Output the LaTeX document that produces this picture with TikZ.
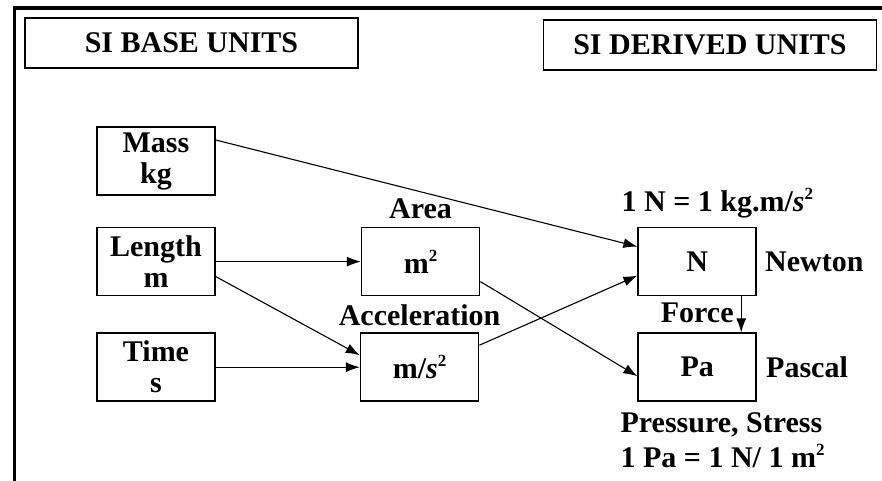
\documentclass[tikz,border=0pt]{standalone}
\usepackage{fontspec}
\setmainfont{Liberation Serif}
\usetikzlibrary{positioning,arrows.meta}
\newcommand{\sqr}{\raisebox{12pt}{\fontsize{17}{17}\selectfont 2}}

\begin{document}
\begin{tikzpicture}[x=1pt,y=-1pt,
		every node/.style={font=\bfseries\fontsize{30}{31}\selectfont,inner sep=0pt},
		header/.style={draw,line width=1.6pt,minimum width=333pt,minimum height=50pt,font=\bfseries\fontsize{30}{34}\selectfont},
		unit/.style={draw,line width=1.6pt,minimum width=118pt,minimum height=68pt,align=center},
		link/.style={-{Latex[length=14pt,width=10pt]},line width=1.1pt}]
	\useasboundingbox (0,0) rectangle (882,481);
	\draw[line width=3.5pt] (14.5,481) -- (14.5,8) -- (882,8);

	\node (BASE)    [header] at (191.5,43)  {SI BASE UNITS};
	\node (DERIVED) [header] at (710,45)    {SI DERIVED UNITS};

	\node (MASS)    [unit] at (156,161)           {Mass\\kg};
	\node (LENGTH)  [unit,below=31pt of MASS]     {Length\\m};
	\node (TIME)    [unit,below=36pt of LENGTH]   {Time\\s};
	\node (AREA)    [unit,right=145pt of LENGTH]  {m\sqr};
	\node (ACCEL)   [unit,right=144pt of TIME]    {m/\textit{s}\sqr};
	\node (NEWTON)  [unit,right=157pt of AREA]    {N};
	\node (PASCAL)  [unit,below=36pt of NEWTON]   {Pa};

	\node (AREAL)   [above=8pt of AREA]           {Area};
	\node (ACCELL)  [above=6pt of ACCEL]          {Acceleration};
	\node (NDEF)    [above right=8pt and -16pt of NEWTON.north west] {1 N = 1 kg.m/\textit{s}\sqr};
	\node (NNAME)   [right=8pt of NEWTON]         {Newton};
	\node (PNAME)   [right=9pt of PASCAL]         {Pascal};
	\node (FORCE)   [below=6pt of NEWTON]         {Force};
	\node (PDEF)    [below right=10pt and -17pt of PASCAL.south west,align=left,font=\bfseries\fontsize{30}{35}\selectfont]
		{Pressure, Stress\\1 Pa = 1 N/ 1 m\sqr};

	\draw[link] ([yshift=21pt]MASS.east)    -- ([yshift=15pt]NEWTON.west);
	\draw[link] (LENGTH.east)               -- (AREA.west);
	\draw[link] ([yshift=-15pt]LENGTH.east) -- ([yshift=12pt]ACCEL.west);
	\draw[link] (TIME.east)                 -- (ACCEL.west);
	\draw[link] ([yshift=-20pt]AREA.east)   -- ([yshift=-9pt]PASCAL.west);
	\draw[link] ([yshift=22pt]ACCEL.east)   -- ([yshift=-14pt]NEWTON.west);
	\draw[link] ([xshift=44pt]NEWTON.south) -- ([xshift=44pt]PASCAL.north);
\end{tikzpicture}
\end{document}
